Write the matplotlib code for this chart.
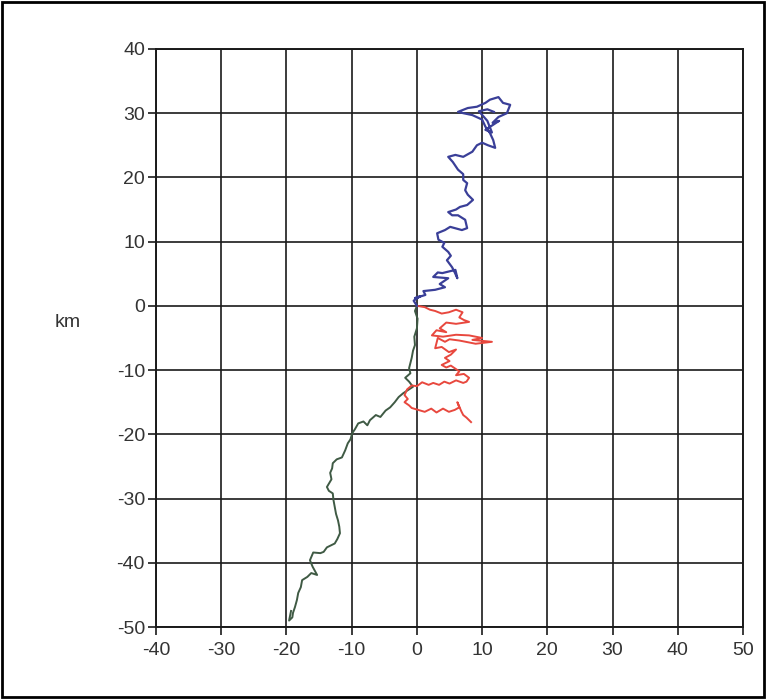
import matplotlib
matplotlib.use("Agg")
import matplotlib.pyplot as plt
from matplotlib.patches import Rectangle

plt.rcParams['axes.unicode_minus'] = False
plt.rcParams['font.family'] = ['Liberation Sans', 'DejaVu Sans']

x_ticks = [-40, -30, -20, -10, 0, 10, 20, 30, 40, 50]
y_ticks = [-50, -40, -30, -20, -10, 0, 10, 20, 30, 40]
y_label = "km"

blue_x = [0, -0.5, 0.5, -0.3, 1.3, 1.0, 2.8, 4.3, 3.5, 4.8, 2.5, 3.2, 3.9, 5.9, 6.2, 5.8, 5.4, 4.6, 5.2, 4.8,
          3.9, 4.2, 3.3, 3.1, 4.3, 5.1, 6.9, 7.7, 7.4, 6.3, 5.4, 4.8, 6.0, 6.6, 7.7, 8.6, 7.8, 7.4, 7.7, 7.1,
          7.1, 6.3, 5.5, 4.8, 5.9, 7.1, 8.5, 9.2, 10.0, 10.9, 12.0, 11.7, 11.2, 10.5, 10.0, 8.5, 7.1, 6.3, 7.8,
          9.2, 10.5, 11.2, 12.5, 13.2, 14.3, 13.8, 12.5, 11.6, 12.6, 10.5, 11.5, 10.8, 9.5, 10.8, 11.8]
blue_y = [0, 0.8, 1.5, 1.2, 1.7, 2.3, 2.5, 2.9, 3.4, 4.3, 4.5, 5.2, 5.1, 5.6, 4.3, 5.2, 6.0, 7.1, 7.8, 8.4,
          9.2, 9.8, 10.3, 11.3, 11.8, 12.3, 11.8, 12.1, 13.4, 14.1, 14.1, 14.6, 15.0, 15.4, 15.7, 16.5, 17.3, 18.0, 19.1, 19.6,
          20.5, 21.2, 22.4, 23.2, 23.5, 23.2, 24.0, 25.0, 25.4, 25.0, 24.6, 25.8, 26.9, 27.9, 29.0, 29.7, 30.0, 30.2, 30.8,
          31.0, 31.6, 32.1, 32.5, 31.6, 31.3, 30.0, 29.4, 28.5, 28.8, 27.4, 27.0, 28.8, 30.3, 30.6, 30.2]

red_x = [0, 1.2, 2.0, 2.8, 3.8, 4.9, 6.0, 7.0, 6.5, 7.2, 8.0, 6.0, 4.5, 3.5, 4.5, 3.0, 2.3, 4.0, 6.0, 8.0,
         10.0, 8.5, 11.5, 9.0, 6.5, 5.0, 4.3, 3.2, 2.8, 3.8, 4.9, 6.0, 5.2, 4.3, 5.0, 3.8, 4.5, 5.2, 6.5, 6.0,
         7.2, 8.0, 7.6, 7.1, 6.0, 5.0, 4.2, 3.4, 2.5, 1.8, 0.8, 0, -0.8, -1.5, -1.9, -1.4, -1.9, -1.2, -0.8, 0.2,
         1.2, 2.2, 3.0, 4.0, 4.9, 5.8, 6.5, 6.2, 6.8, 7.1, 7.6, 8.3]
red_y = [0, -0.2, -0.6, -0.8, -1.2, -1.0, -0.6, -1.0, -1.8, -2.2, -2.5, -2.8, -2.6, -3.5, -4.1, -3.8, -4.6, -4.8, -4.5, -4.6,
         -5.0, -5.3, -5.6, -5.9, -5.4, -5.2, -5.6, -5.0, -6.6, -6.4, -7.2, -6.8, -7.6, -8.1, -8.6, -9.2, -9.6, -9.3, -10.2, -10.8,
         -10.6, -11.2, -11.8, -12.0, -11.6, -12.1, -11.8, -12.3, -12.0, -12.3, -11.9, -12.5, -12.4, -13.0, -13.9, -14.5, -15.0, -15.5, -15.9, -16.2,
         -16.5, -16.0, -16.6, -16.0, -16.5, -16.2, -15.8, -15.0, -16.4, -17.0, -17.4, -18.1]

green_x = [0, -0.3, 0.1, 0, -0.4, -0.3, -0.6, -0.8, -1.2, -1.0, -1.8, -1.2, -0.6, -2.1, -2.8, -3.4, -4.1, -4.8, -5.6, -6.3,
           -7.2, -7.6, -8.2, -9.0, -9.5, -9.9, -10.2, -10.6, -11.0, -11.5, -12.3, -12.9, -13.0, -13.3, -13.1, -13.8, -13.5, -12.9, -12.8, -12.6,
           -12.4, -12.1, -11.9, -11.8, -12.2, -12.6, -13.2, -13.8, -14.3, -14.8, -15.9, -16.4, -16.0, -15.3, -16.2, -16.8, -17.6, -17.8, -18.2, -18.4,
           -18.7, -19.0, -19.1, -19.6, -19.3]
green_y = [0, -0.8, -2.0, -3.5, -4.8, -6.1, -7.0, -8.1, -9.7, -10.5, -11.2, -11.8, -12.6, -13.6, -14.2, -15.0, -15.8, -16.3, -17.3, -17.0,
           -17.8, -18.6, -18.0, -18.3, -19.2, -19.8, -20.8, -21.4, -22.5, -23.6, -23.9, -24.5, -25.3, -26.0, -27.0, -28.2, -28.8, -29.2, -30.2, -31.3,
           -32.4, -33.4, -34.4, -35.4, -36.3, -37.0, -37.3, -37.6, -38.3, -38.5, -38.4, -39.6, -40.6, -41.9, -41.6, -42.2, -42.7, -43.8, -44.7, -45.8,
           -46.9, -47.8, -48.5, -49.0, -47.5]

fig = plt.figure(figsize=(7.66, 6.99), dpi=100)
ax = fig.add_axes([0.2037, 0.103, 0.7663, 0.827])

ax.plot(green_x, green_y, color='#3f5a44', lw=1.4)
ax.plot(red_x, red_y, color='#e8483e', lw=1.4)
ax.plot(blue_x, blue_y, color='#3a3f98', lw=1.6)

ax.set_xlim(-40, 50)
ax.set_ylim(-50, 40)
ax.set_xticks(x_ticks)
ax.set_yticks(y_ticks)
ax.set_xticklabels([str(v) for v in x_ticks])
ax.set_yticklabels([str(v) for v in y_ticks])
ax.grid(True, color='#1a1a1a', lw=1.2)
ax.set_axisbelow(True)
for s in ax.spines.values():
    s.set_color('#1a1a1a')
    s.set_linewidth(1.4)
ax.tick_params(direction='out', length=6, width=1.2, color='#1a1a1a',
               labelsize=14, labelcolor='#333333')
ax.tick_params(axis='x', pad=5)
ax.tick_params(axis='y', pad=2)

fig.text(0.089, 0.538, y_label, fontsize=14, color='#333333', ha='center', va='center')

fig.patches.append(Rectangle((0.003, 0.003), 0.994, 0.994, transform=fig.transFigure,
                             fill=False, edgecolor='black', lw=2))

fig.savefig('out.png', dpi=100)
